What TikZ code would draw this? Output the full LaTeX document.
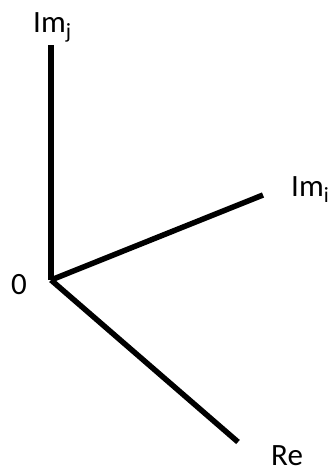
\documentclass[tikz,border=0pt]{standalone}
\usepackage{fontspec}
\setmainfont{Carlito}
\begin{document}
\begin{tikzpicture}[x=1pt,y=-1pt,
  axis/.style={line width=5.5pt,line cap=butt},
  lbl/.style={font=\fontsize{31}{33}\selectfont,inner sep=0pt,anchor=base west}]
\useasboundingbox (0,0) rectangle (331,472);
\coordinate (o) at (51,280);
\coordinate (j) at (51,45);
\coordinate (i) at (263,195);
\coordinate (r) at (238,442);
\draw[axis] (j) -- (o);
\draw[axis] (o) -- (i);
\draw[axis] (o) -- (r);
\node[lbl] (lj) at (33,32) {Im\textsubscript{j}};
\node[lbl] (li) at (291,196) {Im\textsubscript{i}};
\node[lbl] (l0) at (11,294) {0};
\node[lbl] (lr) at (271,465) {Re};
\end{tikzpicture}
\end{document}
